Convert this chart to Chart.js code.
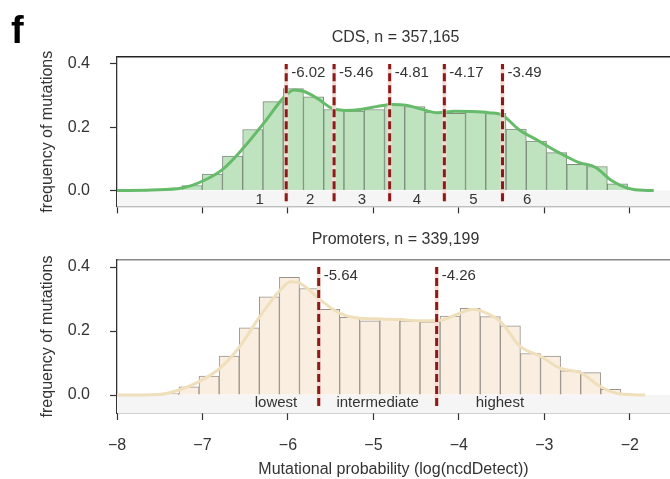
<!DOCTYPE html>
<html>
<head>
<meta charset="utf-8">
<script src="https://cdn.jsdelivr.net/npm/chart.js@4.4.1/dist/chart.umd.min.js"></script>
<style>
  html, body { margin: 0; padding: 0; background: #fff; }
  #wrap { position: relative; width: 670px; height: 479px; overflow: hidden; }
  canvas { position: absolute; left: 0; }
  #cds { top: 0; }
  #prom { top: 230px; }
</style>
</head>
<body>
<div id="wrap">
  <canvas id="cds" width="670" height="236"></canvas>
  <canvas id="prom" width="670" height="249"></canvas>
</div>
<script>
// ---- data ----
const xTicks = [-8, -7, -6, -5, -4, -3, -2];
const yTicks = [0, 0.2, 0.4];

// CDS panel
const cdsBinCenters = [-7.122, -6.885, -6.648, -6.411, -6.174, -5.937, -5.700, -5.463,
  -5.226, -4.989, -4.752, -4.515, -4.278, -4.041, -3.804, -3.567, -3.330, -3.093,
  -2.856, -2.619, -2.382, -2.145];
const cdsFreq = [0.016, 0.052, 0.109, 0.193, 0.281, 0.322, 0.296, 0.256, 0.251, 0.256,
  0.269, 0.265, 0.248, 0.244, 0.251, 0.244, 0.194, 0.156, 0.120, 0.083, 0.076, 0.021];
const cdsKdeX = [-8.0, -7.6, -7.24, -6.99, -6.76, -6.52, -6.28, -6.04, -5.93, -5.81,
  -5.65, -5.5, -5.34, -5.15, -4.95, -4.78, -4.62, -4.45, -4.25, -4.05, -3.87, -3.65,
  -3.49, -3.30, -3.06, -2.83, -2.60, -2.40, -2.21, -1.97, -1.72];
const cdsKdeY = [0.0, 0.002, 0.008, 0.031, 0.068, 0.135, 0.214, 0.297, 0.318, 0.313,
  0.29, 0.262, 0.253, 0.256, 0.266, 0.272, 0.27, 0.258, 0.246, 0.251, 0.25, 0.246,
  0.238, 0.193, 0.156, 0.12, 0.089, 0.073, 0.031, 0.004, 0.0];
const cdsCutoffs = [-6.02, -5.46, -4.81, -4.17, -3.49];
const cdsGroupLabels = ['1', '2', '3', '4', '5', '6'];
const cdsGroupX = [-6.33, -5.74, -5.135, -4.49, -3.83, -3.20];

// Promoters panel
const promBinCenters = [-7.3925, -7.1575, -6.9225, -6.6875, -6.4525, -6.2175, -5.9825,
  -5.7475, -5.5125, -5.2775, -5.0425, -4.8075, -4.5725, -4.3375, -4.1025, -3.8675,
  -3.6325, -3.3975, -3.1625, -2.9275, -2.6925, -2.4575, -2.2225];
const promFreq = [0.005, 0.026, 0.059, 0.122, 0.21, 0.307, 0.368, 0.333, 0.268, 0.243,
  0.232, 0.238, 0.232, 0.229, 0.247, 0.271, 0.245, 0.216, 0.13, 0.122, 0.076, 0.07, 0.018];
const promKdeX = [-8.0, -7.51, -7.275, -7.04, -6.80, -6.565, -6.33, -6.09, -5.97, -5.856,
  -5.62, -5.39, -5.16, -4.92, -4.68, -4.45, -4.21, -3.98, -3.84, -3.75, -3.51, -3.28,
  -3.05, -2.81, -2.58, -2.34, -2.11, -1.82];
const promKdeY = [0.0, 0.002, 0.016, 0.042, 0.083, 0.151, 0.245, 0.328, 0.354, 0.349,
  0.297, 0.255, 0.24, 0.238, 0.236, 0.232, 0.234, 0.257, 0.268, 0.264, 0.229, 0.151,
  0.122, 0.083, 0.07, 0.026, 0.003, 0.0];
const promCutoffs = [-5.64, -4.26];
const promGroupLabels = ['lowest', 'intermediate', 'highest'];
const promGroupX = [-6.14, -4.95, -3.52];

// ---- drawing ----
const FONT = "'Liberation Sans', Arial, Helvetica, sans-serif";
const INK = '#333';

const panelDecor = {
  id: 'panelDecor',
  beforeDatasetsDraw(chart) {
    // light strip below the zero line
    const { ctx, chartArea: a, scales: { y } } = chart;
    const y0 = y.getPixelForValue(0);
    ctx.save();
    ctx.fillStyle = '#f5f5f5';
    ctx.fillRect(a.left, y0, a.right - a.left, a.bottom - y0);
    ctx.restore();
  },
  afterDatasetsDraw(chart, args, o) {
    const { ctx, scales: { x, y } } = chart;
    ctx.save();
    ctx.fillStyle = INK;
    ctx.font = `15px ${FONT}`;
    ctx.textBaseline = 'middle';
    ctx.textAlign = 'left';
    o.cutoffs.forEach(c => {
      ctx.fillText(c.toFixed(2), x.getPixelForValue(c) + 5, y.getPixelForValue(0.372));
    });
    ctx.textAlign = 'center';
    o.groupLabels.forEach((t, i) => {
      ctx.fillText(t, x.getPixelForValue(o.groupX[i]), y.getPixelForValue(o.groupY));
    });
    ctx.restore();
  },
  afterDraw(chart, args, o) {
    const { ctx, chartArea: a } = chart;
    ctx.save();
    ctx.fillStyle = INK;
    ctx.font = `16px ${FONT}`;
    ctx.textAlign = 'center';
    ctx.textBaseline = 'alphabetic';
    ctx.fillText(o.title, (a.left + a.right) / 2 + 2, o.titleBaseline);
    if (o.panelTag) {
      ctx.fillStyle = '#000';
      ctx.font = `bold 38px ${FONT}`;
      ctx.textAlign = 'left';
      ctx.fillText(o.panelTag, 11, 43);
    }
    ctx.restore();
  }
};

function makePanel(canvasId, cfg) {
  const cutLines = [];
  cfg.cutoffs.forEach(c => {
    const pts = [{ x: c, y: -0.034 }, { x: c, y: 0.40 }];
    cutLines.push({ type: 'line', data: pts, borderColor: '#f6dcd6', borderWidth: 4,
      pointRadius: 0, order: 3 });
    cutLines.push({ type: 'line', data: pts, borderColor: '#8b1a1a', borderWidth: 3,
      borderDash: [8, 4], pointRadius: 0, order: 2 });
  });

  return new Chart(document.getElementById(canvasId), {
    type: 'bar',
    data: {
      datasets: [
        {
          type: 'bar',
          data: cfg.centers.map((c, i) => ({ x: c, y: cfg.freq[i] })),
          backgroundColor: cfg.barFill,
          borderColor: cfg.barEdge,
          borderWidth: 1,
          barPercentage: 1,
          categoryPercentage: 1,
          grouped: false,
          order: 5,
        },
        {
          type: 'line',
          data: cfg.kdeX.map((v, i) => ({ x: v, y: cfg.kdeY[i] })),
          borderColor: cfg.kdeColor,
          borderWidth: 3,
          pointRadius: 0,
          cubicInterpolationMode: 'monotone',
          order: 4,
        },
        ...cutLines,
      ],
    },
    options: {
      responsive: false,
      animation: false,
      layout: { padding: { top: cfg.padTop, left: 0, right: 0, bottom: 0 } },
      plugins: {
        legend: { display: false },
        tooltip: { enabled: false },
        panelDecor: {
          cutoffs: cfg.cutoffs,
          groupLabels: cfg.groupLabels,
          groupX: cfg.groupX,
          groupY: cfg.groupY,
          title: cfg.title,
          titleBaseline: cfg.titleBaseline,
          panelTag: cfg.panelTag,
        },
      },
      scales: {
        x: {
          type: 'linear',
          min: -8, max: -1.53,
          offset: false,
          afterBuildTicks: s => { s.ticks = xTicks.map(v => ({ value: v })); },
          ticks: {
            display: cfg.showXLabels,
            autoSkip: false, maxRotation: 0,
            color: INK, padding: 16,
            font: { family: FONT, size: 16 },
            callback: v => String(v).replace('-', '\u2212'),
          },
          grid: { display: true, drawOnChartArea: false, offset: false,
                  tickLength: 7, tickColor: '#333', tickWidth: 1.2 },
          border: { display: true, color: cfg.bottomSpine, width: 1.3 },
          title: {
            display: cfg.showXLabels,
            text: 'Mutational probability (log(ncdDetect))',
            color: INK, font: { family: FONT, size: 16 },
            padding: { top: 0, bottom: 0 },
          },
          afterFit: s => { s.height = cfg.xHeight; },
        },
        xTop: {
          type: 'linear', position: 'top',
          min: -8, max: -1.53,
          ticks: { display: false },
          grid: { display: false },
          border: { display: true, color: cfg.topSpine, width: 1.5 },
          afterFit: s => { s.height = 0; },
        },
        y: {
          min: cfg.yMin, max: 0.422,
          afterBuildTicks: s => { s.ticks = yTicks.map(v => ({ value: v })); },
          ticks: {
            color: INK, padding: 20,
            font: { family: FONT, size: 16 },
            callback: v => v.toFixed(1),
          },
          grid: { display: true, drawOnChartArea: false,
                  tickLength: 7, tickColor: '#333', tickWidth: 1.2 },
          border: { display: true, color: '#333', width: 1.3 },
          title: {
            display: true,
            text: 'frequency of mutations',
            color: INK, font: { family: FONT, size: 16 },
            padding: { top: 38, bottom: 0 },
          },
          afterFit: s => { s.width = 117; },
        },
      },
    },
    plugins: [panelDecor],
  });
}

makePanel('cds', {
  centers: cdsBinCenters, freq: cdsFreq, kdeX: cdsKdeX, kdeY: cdsKdeY,
  cutoffs: cdsCutoffs, groupLabels: cdsGroupLabels, groupX: cdsGroupX, groupY: -0.03,
  barFill: '#bfe3bf', barEdge: '#7d8c7d', kdeColor: '#66bb6a',
  title: 'CDS, n = 357,165', titleBaseline: 42, panelTag: 'f',
  padTop: 57, xHeight: 28, yMin: -0.05, showXLabels: false,
  topSpine: '#222', bottomSpine: '#999',
});

makePanel('prom', {
  centers: promBinCenters, freq: promFreq, kdeX: promKdeX, kdeY: promKdeY,
  cutoffs: promCutoffs, groupLabels: promGroupLabels, groupX: promGroupX, groupY: -0.025,
  barFill: '#faeee1', barEdge: '#9a948c', kdeColor: '#efdfbb',
  title: 'Promoters, n = 339,199', titleBaseline: 14, panelTag: null,
  padTop: 30, xHeight: 66, yMin: -0.056, showXLabels: true,
  topSpine: '#888', bottomSpine: '#444',
});
</script>
</body>
</html>
